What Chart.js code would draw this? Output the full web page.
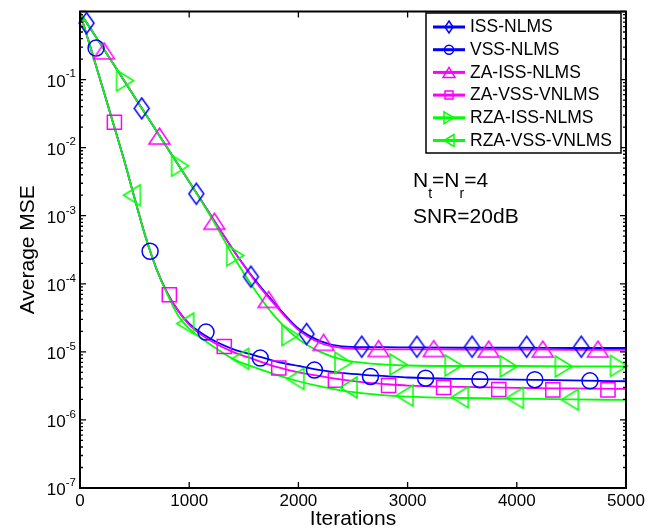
<!DOCTYPE html>
<html>
<head>
<meta charset="utf-8">
<script src="https://cdn.jsdelivr.net/npm/chart.js@4.4.1/dist/chart.umd.min.js"></script>
<style>
html,body{margin:0;padding:0;background:#fff;}
canvas{display:block;}
</style>
</head>
<body>
<canvas id="c" width="656" height="532"></canvas>
<script>
// ---------- data ----------
const iterations = [0,100,200,300,400,500,600,700,800,900,1000,1200,1400,1600,1800,2000,2200,2400,2600,2800,3000,3500,4000,4500,5000];

const issNlms    = [0.95,0.55,0.31,0.175,0.0987,0.0554,0.0313,0.0176,0.0099,0.0056,0.00316,0.001,3.2e-4,1.15e-4,4.8e-5,2.2e-5,1.44e-5,1.2e-5,1.17e-5,1.17e-5,1.16e-5,1.15e-5,1.15e-5,1.14e-5,1.14e-5];
const zaIssNlms  = [0.95,0.55,0.31,0.175,0.0987,0.0554,0.0313,0.0176,0.0099,0.0056,0.00316,0.001,3.2e-4,1.12e-4,4.6e-5,2.1e-5,1.35e-5,1.14e-5,1.1e-5,1.09e-5,1.09e-5,1.08e-5,1.08e-5,1.07e-5,1.07e-5];
const rzaIssNlms = [0.95,0.55,0.31,0.175,0.0987,0.0554,0.0313,0.0176,0.0099,0.0056,0.00316,9.6e-4,2.6e-4,8.2e-5,3.1e-5,1.54e-5,1.0e-5,7.7e-6,6.9e-6,6.5e-6,6.3e-6,6.2e-6,6.2e-6,6.1e-6,6.1e-6];
const vssNlms    = [0.95,0.284,0.083,0.024,0.0069,0.0018,4.9e-4,1.66e-4,7.3e-5,4.0e-5,2.6e-5,1.54e-5,1.1e-5,8.9e-6,7.2e-6,6.2e-6,5.4e-6,4.9e-6,4.6e-6,4.4e-6,4.2e-6,4.0e-6,3.9e-6,3.8e-6,3.7e-6];
const zaVssVnlms = [0.95,0.284,0.083,0.024,0.0069,0.0018,4.9e-4,1.66e-4,7.3e-5,4.0e-5,2.5e-5,1.44e-5,1.0e-5,7.7e-6,6.0e-6,5.0e-6,4.4e-6,3.9e-6,3.55e-6,3.35e-6,3.2e-6,3.05e-6,2.95e-6,2.9e-6,2.85e-6];
const rzaVssVnlms= [0.95,0.284,0.083,0.024,0.0069,0.0018,4.9e-4,1.66e-4,7.0e-5,3.4e-5,2.2e-5,1.26e-5,7.9e-6,5.9e-6,4.6e-6,3.7e-6,3.1e-6,2.7e-6,2.46e-6,2.3e-6,2.2e-6,2.1e-6,2.05e-6,2.0e-6,1.97e-6];

// marker positions (iteration) and values
const issMarkX    = [60,565,1065,1565,2075,2580,3085,3590,4090,4590];
const issMarkY    = [0.675,0.0377,0.0021,1.27e-4,1.83e-5,1.19e-5,1.19e-5,1.19e-5,1.19e-5,1.19e-5];
const vssMarkX    = [147,642,1154,1651,2147,2660,3165,3662,4165,4670];
const vssMarkY    = [0.29,3.0e-4,1.95e-5,8.1e-6,5.4e-6,4.35e-6,4.1e-6,3.9e-6,3.9e-6,3.75e-6];
const zaIssMarkX  = [220,727,1230,1727,2230,2734,3239,3743,4238,4743];
const zaIssMarkY  = [0.264,0.0148,8.3e-4,5.9e-5,1.38e-5,1.12e-5,1.12e-5,1.1e-5,1.1e-5,1.1e-5];
const zaVssMarkX  = [315,818,1321,1820,2339,2826,3330,3835,4330,4835];
const zaVssMarkY  = [0.0236,6.9e-5,1.2e-5,5.8e-6,3.85e-6,3.2e-6,3.0e-6,2.8e-6,2.77e-6,2.77e-6];
const rzaIssMarkX = [413,917,1422,1927,2413,2917,3422,3927,4431,4936];
const rzaIssMarkY = [0.0964,5.4e-3,2.6e-4,1.76e-5,6.9e-6,6.5e-6,6.3e-6,6.1e-6,6.1e-6,6.2e-6];
const rzaVssMarkX = [475,963,1468,1972,2459,2972,3477,3982,4486];
const rzaVssMarkY = [2.0e-3,2.6e-5,7.9e-6,4.0e-6,3.0e-6,2.27e-6,2.15e-6,2.1e-6,1.98e-6];

const seriesNames = ['ISS-NLMS','VSS-NLMS','ZA-ISS-NLMS','ZA-VSS-VNLMS','RZA-ISS-NLMS','RZA-VSS-VNLMS'];
const xTickValues = [0,1000,2000,3000,4000,5000];
const yTickExponents = [-7,-6,-5,-4,-3,-2,-1];
const annotationLines = [['N','t','=N','r','=4'],['SNR=20dB']];

// ---------- styles ----------
const FONT = "'Liberation Sans', Arial, Helvetica, sans-serif";
Chart.defaults.font.family = FONT;
const BLUE = '#0000ff', MAG = '#ff00ff', GRN = '#00ff00';

function shapePath(g, kind, x, y, w, h) {
  g.beginPath();
  if (kind === 'diamond') {
    g.moveTo(x, y - h/2); g.lineTo(x + w/2, y); g.lineTo(x, y + h/2); g.lineTo(x - w/2, y);
  } else if (kind === 'up') {
    g.moveTo(x, y - h/2); g.lineTo(x + w/2, y + h/2); g.lineTo(x - w/2, y + h/2);
  } else if (kind === 'right') {
    g.moveTo(x - w/2, y - h/2); g.lineTo(x + w/2, y); g.lineTo(x - w/2, y + h/2);
  } else if (kind === 'left') {
    g.moveTo(x + w/2, y - h/2); g.lineTo(x - w/2, y); g.lineTo(x + w/2, y + h/2);
  } else if (kind === 'square') {
    g.rect(x - w/2, y - h/2, w, h);
  } else if (kind === 'circle') {
    g.arc(x, y, w/2, 0, Math.PI*2);
  }
  g.closePath();
}

function markerCanvas(kind, color, w, h) {
  const c = document.createElement('canvas');
  c.width = w + 4; c.height = h + 4;
  const g = c.getContext('2d');
  g.strokeStyle = color; g.lineWidth = 1.5; g.lineJoin = 'miter';
  shapePath(g, kind, c.width/2, c.height/2, w, h);
  g.stroke();
  return c;
}

function xy(xs, ys) { return xs.map((v, i) => ({x: v, y: ys[i]})); }

function lineSet(label, data, color, order) {
  return {type: 'line', label, data: xy(iterations, data), borderColor: color, borderWidth: 1.8,
    pointRadius: 0, pointHoverRadius: 0, fill: false, cubicInterpolationMode: 'monotone', order};
}
function markSet(label, xs, ys, color, style, radius, order) {
  return {type: 'line', label, data: xy(xs, ys), showLine: false, borderColor: color, backgroundColor: 'rgba(0,0,0,0)',
    pointStyle: style, pointRadius: radius, pointBorderWidth: 1.5, pointHoverRadius: radius, clip: false, order};
}

const datasets = [
  lineSet(seriesNames[0], issNlms, BLUE, 15),
  lineSet(seriesNames[1], vssNlms, BLUE, 14),
  lineSet(seriesNames[2], zaIssNlms, MAG, 13),
  lineSet(seriesNames[3], zaVssVnlms, MAG, 12),
  lineSet(seriesNames[4], rzaIssNlms, GRN, 11),
  lineSet(seriesNames[5], rzaVssVnlms, GRN, 10),
  markSet(seriesNames[0], issMarkX, issMarkY, BLUE, markerCanvas('diamond', BLUE, 15, 21), 9, 5),
  markSet(seriesNames[1], vssMarkX, vssMarkY, BLUE, 'circle', 8, 4),
  markSet(seriesNames[2], zaIssMarkX, zaIssMarkY, MAG, markerCanvas('up', MAG, 21, 16), 10, 3),
  markSet(seriesNames[3], zaVssMarkX, zaVssMarkY, MAG, 'rect', 10, 2),
  markSet(seriesNames[4], rzaIssMarkX, rzaIssMarkY, GRN, markerCanvas('right', GRN, 17, 21), 10, 1),
  markSet(seriesNames[5], rzaVssMarkX, rzaVssMarkY, GRN, markerCanvas('left', GRN, 17, 21), 10, 0)
];

const legendItems = [
  {color: BLUE, kind: 'diamond', w: 8, h: 12},
  {color: BLUE, kind: 'circle', w: 9, h: 9},
  {color: MAG, kind: 'up', w: 12, h: 10},
  {color: MAG, kind: 'square', w: 8, h: 8},
  {color: GRN, kind: 'right', w: 10, h: 12},
  {color: GRN, kind: 'left', w: 10, h: 12}
];

const framePlugin = {
  id: 'frame',
  afterDatasetsDraw(chart) {
    const {ctx, chartArea: a, scales: {x, y}} = chart;
    ctx.save();
    ctx.strokeStyle = '#000';
    ctx.lineWidth = 1.3;
    ctx.beginPath();
    xTickValues.forEach(v => {
      const px = x.getPixelForValue(v);
      ctx.moveTo(px, a.bottom); ctx.lineTo(px, a.bottom - 6);
      ctx.moveTo(px, a.top); ctx.lineTo(px, a.top + 6);
    });
    for (let e = -7; e <= 0; e++) {
      const py = y.getPixelForValue(Math.pow(10, e));
      ctx.moveTo(a.left, py); ctx.lineTo(a.left + 6, py);
      ctx.moveTo(a.right, py); ctx.lineTo(a.right - 6, py);
      if (e < 0) {
        for (let m = 2; m <= 9; m++) {
          const pm = y.getPixelForValue(m * Math.pow(10, e));
          ctx.moveTo(a.left, pm); ctx.lineTo(a.left + 3, pm);
          ctx.moveTo(a.right, pm); ctx.lineTo(a.right - 3, pm);
        }
      }
    }
    ctx.stroke();
    ctx.lineWidth = 2;
    ctx.strokeRect(a.left, a.top, a.right - a.left, a.bottom - a.top);

    // y tick labels 10^e
    ctx.fillStyle = '#000';
    ctx.textBaseline = 'alphabetic';
    yTickExponents.forEach(e => {
      const py = y.getPixelForValue(Math.pow(10, e));
      const expTxt = String(e);
      ctx.font = '11.5px ' + FONT;
      const ew = ctx.measureText(expTxt).width;
      const ex = 76 - ew;
      ctx.textAlign = 'left';
      ctx.fillText(expTxt, ex, py - 2.2);
      ctx.font = '17px ' + FONT;
      ctx.textAlign = 'right';
      ctx.fillText('10', ex, py + 7);
    });
    ctx.restore();
  },
  afterDraw(chart) {
    const ctx = chart.ctx;
    ctx.save();
    // legend box
    const bx = 426, by = 13, bw = 195, bh = 140;
    ctx.fillStyle = '#fff';
    ctx.fillRect(bx, by, bw, bh);
    ctx.strokeStyle = '#000';
    ctx.lineWidth = 1.5;
    ctx.strokeRect(bx, by, bw, bh);
    legendItems.forEach((it, i) => {
      const cy = 27 + 22.7 * i;
      ctx.strokeStyle = it.color;
      ctx.lineWidth = 3;
      ctx.beginPath(); ctx.moveTo(433, cy); ctx.lineTo(465, cy); ctx.stroke();
      ctx.lineWidth = 1.5;
      shapePath(ctx, it.kind, 449, cy, it.w, it.h);
      ctx.stroke();
      ctx.fillStyle = '#000';
      ctx.font = '17.5px ' + FONT;
      ctx.textAlign = 'left';
      ctx.textBaseline = 'middle';
      ctx.fillText(seriesNames[i], 470, cy + 0.5);
    });
    // annotation
    ctx.fillStyle = '#000';
    ctx.textBaseline = 'alphabetic';
    ctx.textAlign = 'left';
    let ax = 413;
    annotationLines[0].forEach((t, i) => {
      const sub = (i % 2 === 1);
      ctx.font = (sub ? '14px ' : '21px ') + FONT;
      ctx.fillText(t, ax, sub ? 198 : 187);
      ax += ctx.measureText(t).width;
    });
    ctx.font = '21px ' + FONT;
    ctx.fillText(annotationLines[1][0], 413, 223);
    ctx.restore();
  }
};

new Chart(document.getElementById('c'), {
  type: 'line',
  data: {datasets},
  options: {
    responsive: false,
    animation: false,
    devicePixelRatio: 1,
    layout: {padding: {top: 7, right: 30, left: 0, bottom: 0}},
    plugins: {legend: {display: false}, tooltip: {enabled: false}},
    events: [],
    scales: {
      x: {
        type: 'linear', min: 0, max: 5000,
        grid: {display: false, drawTicks: false, tickLength: 0}, border: {display: false},
        ticks: {stepSize: 1000, autoSkip: false, maxRotation: 0, padding: 3, color: '#000',
          font: {size: 17}, callback: v => String(v)},
        title: {display: true, text: 'Iterations', color: '#000', font: {size: 21}, padding: {top: 0, bottom: 0}},
        afterFit: s => { s.height = 44; }
      },
      y: {
        type: 'logarithmic', min: 1e-7, max: 1,
        grid: {display: false, drawTicks: false, tickLength: 0}, border: {display: false},
        ticks: {display: false},
        title: {display: true, text: 'Average MSE', color: '#000', font: {size: 21}, padding: {top: 16, bottom: 0}},
        afterFit: s => { s.width = 80; }
      }
    }
  },
  plugins: [framePlugin]
});
</script>
</body>
</html>
